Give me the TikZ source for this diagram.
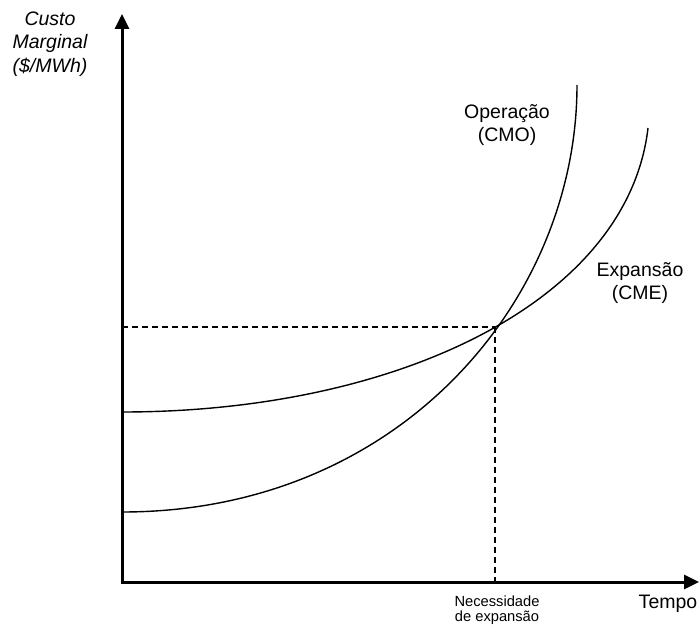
\documentclass[tikz,border=0pt]{standalone}
\usepackage{fontspec}
\setmainfont{Liberation Sans}
\usetikzlibrary{arrows.meta}
\begin{document}
\begin{tikzpicture}[x=1pt,y=-1pt,
  axis/.style={line width=3pt,-{Triangle[length=15pt,width=14pt]}},
  curve/.style={line width=1.4pt},
  guide/.style={line width=1.3pt,dash pattern=on 6pt off 4pt},
  lbl/.style={inner sep=0pt,align=center,font=\fontsize{19.5}{23}\selectfont},
  small/.style={inner sep=0pt,align=center,font=\fontsize{14.7}{15.5}\selectfont}]
\useasboundingbox (0,0) rectangle (699,626);
% axes
\coordinate (O) at (122,582);
\coordinate (ytop) at (122,14);
\coordinate (xend) at (699,582);
\draw[axis] ([yshift=1.5pt]O) -- (ytop);
\draw[axis] ([xshift=-1.5pt]O) -- (xend);
% cost curves
\coordinate (P) at (495,327);
\coordinate (cmoA) at (122,512);
\coordinate (cmoB) at (577,85);
\coordinate (cmeA) at (122,412);
\coordinate (cmeB) at (648,128);
\draw[curve] (cmoA) .. controls (400,512) and (577,300) .. (cmoB);
\draw[curve] (cmeA) .. controls (400,412) and (628,300) .. (cmeB);
% equilibrium guides
\coordinate (Py) at (122,327);
\coordinate (Px) at (495,582);
\draw[guide] (Py) -- (P);
\draw[guide] (P) -- (Px);
% labels
\node[lbl,font=\fontsize{19.5}{23.5}\selectfont\itshape] (ylab) at (50,44) {Custo\\Marginal\\(\$/MWh)};
\node[lbl] (xlab) at (668,604) {Tempo};
\node[lbl] (cmo) at (507,125) {Operação\\(CMO)};
\node[lbl] (cme) at (640,283) {Expansão\\(CME)};
\node[small] (nec) at (497,610) {Necessidade\\de expansão};
\end{tikzpicture}
\end{document}
